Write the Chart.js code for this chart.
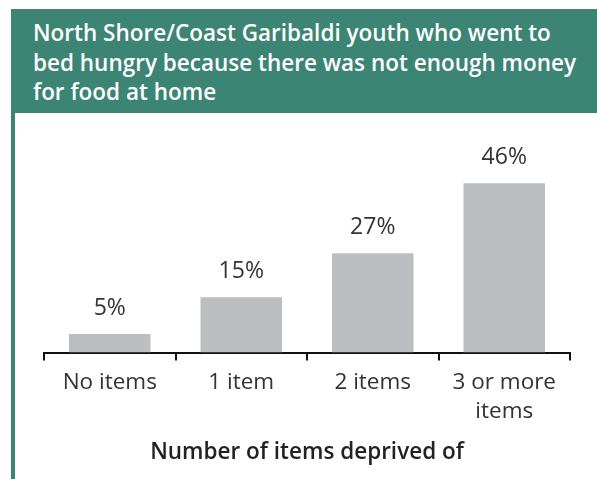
<!DOCTYPE html>
<html>
<head>
<meta charset="utf-8">
<script src="https://cdn.jsdelivr.net/npm/chart.js@4"></script>
<style>
  html, body { margin: 0; padding: 0; background: #fff; }
  body { width: 597px; height: 479px; overflow: hidden; font-family: "Open Sans", sans-serif; }
  .panel { position: absolute; left: 11px; top: 9px; width: 586px; height: 470px; border-left: 4px solid #3c8473; box-sizing: border-box; }
  .header { background: #3c8473; color: #fff; height: 104px; margin-left: -4px; padding: 9px 0 0 22px; box-sizing: border-box;
            font-size: 22.5px; font-weight: 600; line-height: 29.5px; white-space: nowrap; }
  .chart-wrap { position: relative; width: 582px; height: 366px; }
</style>
</head>
<body>
<div class="panel">
  <div class="header">North Shore/Coast Garibaldi youth who went to<br>bed hungry because there was not enough money<br>for food at home</div>
  <div class="chart-wrap"><canvas id="hungerChart"></canvas></div>
</div>
<script>
const categories = ['No items', '1 item', '2 items', ['3 or more', 'items']];
const percentValues = [5, 15, 27, 46];
const axisTitle = 'Number of items deprived of';

// draws the "NN%" text above each bar
const valueLabels = {
    id: 'valueLabels',
    afterDatasetsDraw(chart) {
        const ctx = chart.ctx;
        const meta = chart.getDatasetMeta(0);
        ctx.save();
        ctx.font = '23px "Open Sans"';
        ctx.fillStyle = '#333';
        ctx.textAlign = 'center';
        ctx.textBaseline = 'middle';
        meta.data.forEach(function (bar, i) {
            ctx.fillText(percentValues[i] + '%', bar.x, bar.y - 26);
        });
        ctx.restore();
    }
};

new Chart(document.getElementById('hungerChart'), {
    type: 'bar',
    data: {
        labels: categories,
        datasets: [{
            data: percentValues,
            backgroundColor: '#bdbec2',
            barPercentage: 0.62,
            categoryPercentage: 1
        }]
    },
    options: {
        responsive: true,
        maintainAspectRatio: false,
        animation: false,
        layout: { padding: { left: 29, right: 27, top: 15, bottom: 9 } },
        plugins: {
            legend: { display: false },
            tooltip: { enabled: false }
        },
        scales: {
            x: {
                border: { color: '#111', width: 2 },
                grid: { drawOnChartArea: false, drawTicks: true, tickLength: 8, color: '#111', lineWidth: 2, offset: true },
                ticks: { color: '#333', font: { family: 'Open Sans', size: 22.5, lineHeight: 1.3 }, padding: 7, maxRotation: 0 },
                title: { display: true, text: axisTitle, color: '#222', font: { family: 'Open Sans', size: 22.5, weight: '600' }, padding: { top: 6 } }
            },
            y: {
                display: false,
                min: 0,
                max: 61
            }
        }
    },
    plugins: [valueLabels]
});
</script>
</body>
</html>
